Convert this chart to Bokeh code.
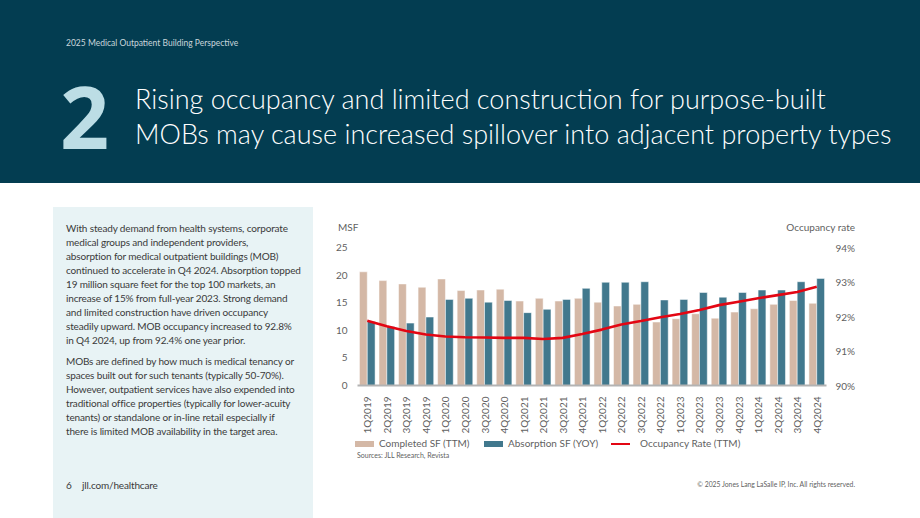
import math
from bokeh.plotting import figure
from bokeh.models import (Range1d, FactorRange, LinearAxis, FixedTicker, ColumnDataSource,
                          PrintfTickFormatter, Div)
from bokeh.layouts import column, row
from bokeh.transform import dodge
from bokeh.embed import file_html
from bokeh.resources import INLINE

# ---------------- data ----------------
quarters = ["1Q2019", "2Q2019", "3Q2019", "4Q2019",
            "1Q2020", "2Q2020", "3Q2020", "4Q2020",
            "1Q2021", "2Q2021", "3Q2021", "4Q2021",
            "1Q2022", "2Q2022", "3Q2022", "4Q2022",
            "1Q2023", "2Q2023", "3Q2023", "4Q2023",
            "1Q2024", "2Q2024", "3Q2024", "4Q2024"]
completed_sf = [20.6, 19.0, 18.4, 17.8, 19.3, 17.2, 17.3, 17.45,
                15.3, 15.8, 15.3, 15.8, 15.1, 14.4, 14.7, 11.5,
                12.1, 13.0, 12.2, 13.3, 13.9, 14.7, 15.4, 14.9]
absorption_sf = [11.6, 10.7, 11.3, 12.4, 15.6, 15.8, 15.1, 15.4,
                 13.2, 13.8, 15.6, 17.6, 18.7, 18.7, 18.8, 15.5,
                 15.6, 16.85, 16.0, 16.85, 17.3, 17.3, 18.8, 19.4]
occupancy_rate = [91.88, 91.72, 91.58, 91.48, 91.42, 91.40, 91.39, 91.38,
                  91.38, 91.35, 91.38, 91.49, 91.62, 91.77, 91.87, 91.98,
                  92.07, 92.19, 92.33, 92.43, 92.53, 92.62, 92.71, 92.86]
msf_ticks = [0, 5, 10, 15, 20, 25]
occ_ticks = [90, 91, 92, 93, 94]

series_names = ["Completed SF (TTM)", "Absorption SF (YOY)", "Occupancy Rate (TTM)"]
left_axis_title = "MSF"
right_axis_title = "Occupancy rate"

kicker = "2025 Medical Outpatient Building Perspective"
section_number = "2"
title_lines = ["Rising occupancy and limited construction for purpose-built",
               "MOBs may cause increased spillover into adjacent property types"]
para1 = ["With steady demand from health systems, corporate",
         "medical groups and independent providers,",
         "absorption for medical outpatient buildings (MOB)",
         "continued to accelerate in Q4 2024. Absorption topped",
         "19 million square feet for the top 100 markets, an",
         "increase of 15% from full-year 2023. Strong demand",
         "and limited construction have driven occupancy",
         "steadily upward. MOB occupancy increased to 92.8%",
         "in Q4 2024, up from 92.4% one year prior."]
para2 = ["MOBs are defined by how much is medical tenancy or",
         "spaces built out for such tenants (typically 50-70%).",
         "However, outpatient services have also expended into",
         "traditional office properties (typically for lower-acuity",
         "tenants) or standalone or in-line retail especially if",
         "there is limited MOB availability in the target area."]
page_no = "6"
site = "jll.com/healthcare"
sources = "Sources: JLL Research, Revista"
copyright_txt = "\u00a9 2025 Jones Lang LaSalle IP, Inc. All rights reserved."

# ---------------- styles ----------------
DARK = "#033d51"
TAN = "#d4b8a6"
TEAL = "#41788d"
RED = "#e30613"
AX = "#5f5f5f"
BODY = "#3a3a3a"
PANEL = "#e8f3f5"
FONT = "Lato"


def absdiv(left, top, inner, style="", right=None):
    pos = f"left:{left}px;" if right is None else f"right:{right}px;"
    return (f'<div style="position:absolute;{pos}top:{top}px;white-space:nowrap;'
            f'font-family:{FONT};{style}">{inner}</div>')


def box(w, h, bg, parts):
    return Div(width=w, height=h, margin=0,
               text=(f'<div style="position:relative;width:{w}px;height:{h}px;'
                     f'overflow:hidden;background:{bg};margin:0;padding:0">'
                     + "".join(parts) + "</div>"))


# ---------------- header ----------------
H_HEAD = 183
head_parts = [
    absdiv(66, 37, kicker, "font-size:8.5px;line-height:12px;color:#c9d6dc;"),
    absdiv(60, 73, section_number,
           "font-family:'Open Sans';font-weight:700;font-size:86px;line-height:86px;color:#bcdde5;"),
]
for i, t in enumerate(title_lines):
    head_parts.append(absdiv(135, 85 + 35 * i, t,
                             "font-weight:300;font-size:27px;line-height:27px;color:#ffffff;"))
head = box(920, H_HEAD, DARK, head_parts)

# ---------------- left text panel ----------------
H_BODY = 518 - H_HEAD
txt = f"font-size:10px;line-height:14px;color:{BODY};letter-spacing:-0.15px;"
left_parts = ['<div style="position:absolute;left:53px;top:24px;width:260px;height:320px;'
              f'background:{PANEL}"></div>']
for i, t in enumerate(para1):
    left_parts.append(absdiv(66, 38 + 14 * i, t, txt))
for i, t in enumerate(para2):
    left_parts.append(absdiv(66, 171 + 14 * i, t, txt))
left_parts.append(absdiv(66, 295, page_no, txt))
left_parts.append(absdiv(82, 295, site, txt))
left = box(330, H_BODY, "#ffffff", left_parts)

# ---------------- chart titles (above plot) ----------------
H_TOP = 50
ttl = f"font-size:10px;line-height:12px;color:{AX};"
top_div = box(590, H_TOP, "#ffffff", [absdiv(8, 38, left_axis_title, ttl),
                                      absdiv(0, 38, right_axis_title, ttl, right=65)])

# ---------------- chart ----------------
src = ColumnDataSource(dict(q=quarters, c=completed_sf, a=absorption_sf, o=occupancy_rate))

B_TOP, FRAME_H, B_BOT = 14, 138, 52
H_PLOT = B_TOP + FRAME_H + B_BOT
p = figure(width=590, height=H_PLOT, x_range=FactorRange(factors=quarters, range_padding=0),
           y_range=Range1d(0, 25), output_backend="svg", toolbar_location=None,
           min_border_left=27, min_border_right=94, min_border_top=B_TOP,
           min_border_bottom=B_BOT, outline_line_color=None, background_fill_color="#ffffff")
p.extra_y_ranges = {"occ": Range1d(90, 94)}
p.grid.visible = False

p.vbar(x=dodge("q", -0.2, range=p.x_range), top="c", width=0.4, source=src,
       fill_color=TAN, line_color="#ffffff", line_width=0.5)
p.vbar(x=dodge("q", 0.2, range=p.x_range), top="a", width=0.4, source=src,
       fill_color=TEAL, line_color="#ffffff", line_width=0.5)
p.line(x="q", y="o", source=src, y_range_name="occ", line_color=RED, line_width=2.6)

p.yaxis.ticker = FixedTicker(ticks=msf_ticks)
p.yaxis.axis_line_color = None
p.yaxis.major_tick_line_color = None
p.yaxis.minor_tick_line_color = None
p.yaxis.major_label_standoff = 4
p.yaxis.major_label_text_font = FONT
p.yaxis.major_label_text_font_size = "10px"
p.yaxis.major_label_text_color = AX

ry = LinearAxis(y_range_name="occ", ticker=FixedTicker(ticks=occ_ticks),
                formatter=PrintfTickFormatter(format="%d%%"))
ry.axis_line_color = None
ry.major_tick_line_color = None
ry.minor_tick_line_color = None
ry.major_label_standoff = 3
ry.major_label_text_font = FONT
ry.major_label_text_font_size = "10px"
ry.major_label_text_color = AX
p.add_layout(ry, "right")

p.xaxis.major_label_orientation = math.pi / 2
p.xaxis.axis_line_color = "#b3b3b3"
p.xaxis.axis_line_width = 2
p.xaxis.major_tick_line_color = None
p.xaxis.minor_tick_line_color = None
p.xaxis.major_label_standoff = 5
p.xaxis.major_label_text_font = FONT
p.xaxis.major_label_text_font_size = "10px"
p.xaxis.major_label_text_color = AX

# ---------------- legend / footer (below plot) ----------------
H_BOT = H_BODY - H_TOP - H_PLOT
lg = f"font-size:10px;line-height:12px;color:{AX};"
bot_parts = [
    f'<div style="position:absolute;left:25px;top:4px;width:19px;height:5.5px;background:{TAN}"></div>',
    absdiv(49, 0, series_names[0], lg),
    f'<div style="position:absolute;left:154px;top:4px;width:19px;height:5.5px;background:{TEAL}"></div>',
    absdiv(178, 0, series_names[1], lg),
    f'<div style="position:absolute;left:281px;top:5.5px;width:19px;height:2.5px;background:{RED}"></div>',
    absdiv(310, 0, series_names[2], lg),
    absdiv(27, 13, sources, f"font-size:7px;line-height:10px;color:{AX};"),
    absdiv(0, 42, copyright_txt, f"font-size:6.8px;line-height:10px;color:{AX};", right=65),
]
bot_div = box(590, H_BOT, "#ffffff", bot_parts)

page = column(head, row(left, column(top_div, p, bot_div, spacing=0), spacing=0), spacing=0)
open("out.html", "w").write(file_html(page, INLINE))
